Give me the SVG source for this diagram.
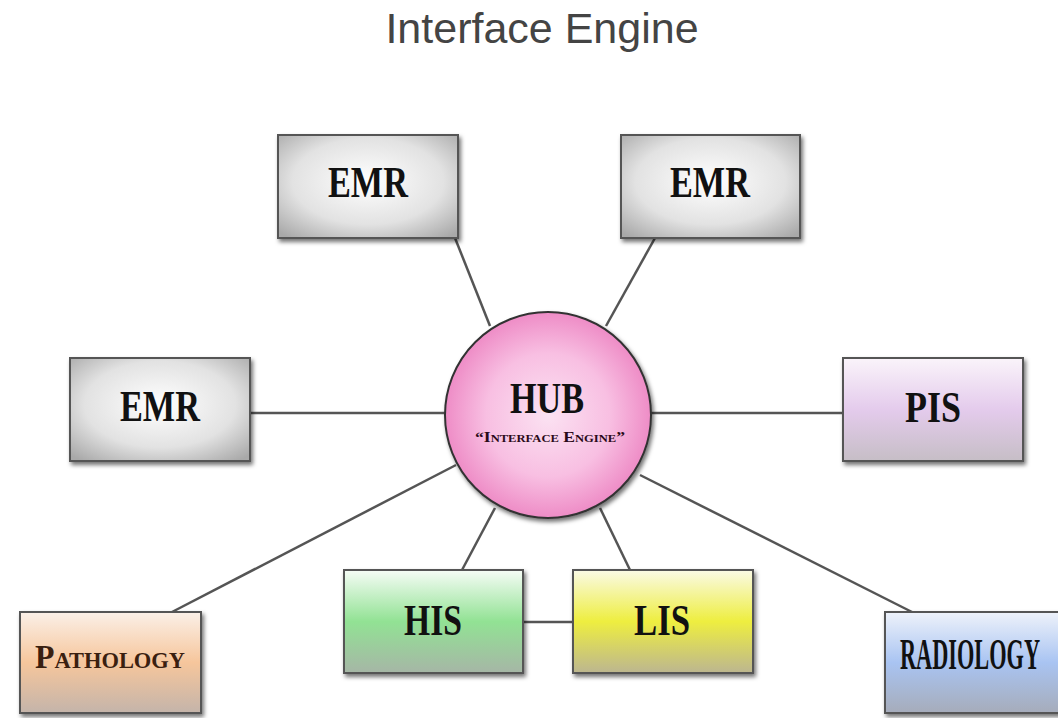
<svg xmlns="http://www.w3.org/2000/svg" width="1058" height="718" viewBox="0 0 1058 718">
<defs>
<style>
.box{stroke:#555;stroke-width:2;filter:url(#sh)}
.lbl{font-family:"Liberation Serif",serif;font-weight:bold;font-size:44px;text-anchor:middle;fill:#111}
.sc{font-family:"Liberation Serif",serif;font-weight:bold;text-anchor:middle;font-variant:small-caps}
.conn{stroke:#555;stroke-width:2.5;fill:none}
</style>
<filter id="sh" x="-10%" y="-10%" width="125%" height="130%">
<feDropShadow dx="2" dy="3" stdDeviation="2" flood-color="#000" flood-opacity="0.55"/>
</filter>
<radialGradient id="gEmr" cx="50%" cy="45%" r="70%">
<stop offset="0" stop-color="#ffffff"/>
<stop offset="0.6" stop-color="#e2e2e2"/>
<stop offset="1" stop-color="#a9a9a9"/>
</radialGradient>
<linearGradient id="gPath" x1="0" y1="0" x2="0" y2="1">
<stop offset="0" stop-color="#fbf0e8"/>
<stop offset="0.5" stop-color="#f6c69c"/>
<stop offset="1" stop-color="#c4b4aa"/>
</linearGradient>
<linearGradient id="gRad" x1="0" y1="0" x2="0" y2="1">
<stop offset="0" stop-color="#eef2fa"/>
<stop offset="0.5" stop-color="#a9c4f2"/>
<stop offset="1" stop-color="#a6acba"/>
</linearGradient>
<linearGradient id="gHis" x1="0" y1="0" x2="0" y2="1">
<stop offset="0" stop-color="#f6fcf6"/>
<stop offset="0.5" stop-color="#92e294"/>
<stop offset="1" stop-color="#a6b6a6"/>
</linearGradient>
<linearGradient id="gLis" x1="0" y1="0" x2="0" y2="1">
<stop offset="0" stop-color="#fafae6"/>
<stop offset="0.5" stop-color="#eeee40"/>
<stop offset="1" stop-color="#bcb690"/>
</linearGradient>
<linearGradient id="gPis" x1="0" y1="0" x2="0" y2="1">
<stop offset="0" stop-color="#faf4fa"/>
<stop offset="0.5" stop-color="#e4cbec"/>
<stop offset="1" stop-color="#c6bec6"/>
</linearGradient>
<radialGradient id="gHub" cx="50%" cy="50%" r="50%">
<stop offset="0" stop-color="#fbe2f2"/>
<stop offset="0.6" stop-color="#f8bfe2"/>
<stop offset="1" stop-color="#ee8cc6"/>
</radialGradient>
</defs>
<rect width="1058" height="718" fill="#ffffff"/>
<text x="542" y="43" font-family="'Liberation Sans',Arial,sans-serif" font-size="43" fill="#444" text-anchor="middle">Interface Engine</text>
<g id="connectors">
<line class="conn" x1="455" y1="238" x2="490" y2="326"/>
<line class="conn" x1="655" y1="238" x2="606" y2="326"/>
<line class="conn" x1="250" y1="413" x2="446" y2="413"/>
<line class="conn" x1="651" y1="413" x2="843" y2="413"/>
<line class="conn" x1="172" y1="612" x2="456" y2="465"/>
<line class="conn" x1="462" y1="570" x2="495" y2="508"/>
<line class="conn" x1="630" y1="570" x2="600" y2="508"/>
<line class="conn" x1="912" y1="612" x2="640" y2="475"/>
<line class="conn" x1="523" y1="622" x2="573" y2="622"/>
</g>
<g id="emr1">
<rect class="box" x="278" y="135" width="180" height="103" fill="url(#gEmr)"/>
<text class="lbl" x="368" y="197" textLength="80" lengthAdjust="spacingAndGlyphs">EMR</text>
</g>
<g id="emr2">
<rect class="box" x="621" y="135" width="179" height="103" fill="url(#gEmr)"/>
<text class="lbl" x="710" y="197" textLength="80" lengthAdjust="spacingAndGlyphs">EMR</text>
</g>
<g id="emr3">
<rect class="box" x="70" y="358" width="180" height="103" fill="url(#gEmr)"/>
<text class="lbl" x="160" y="421" textLength="80" lengthAdjust="spacingAndGlyphs">EMR</text>
</g>
<g id="pis">
<rect class="box" x="843" y="358" width="180" height="103" fill="url(#gPis)"/>
<text class="lbl" x="933" y="422" textLength="56" lengthAdjust="spacingAndGlyphs">PIS</text>
</g>
<g id="hub">
<circle cx="548" cy="415" r="103" fill="url(#gHub)" stroke="#333" stroke-width="2" filter="url(#sh)"/>
<text class="lbl" x="547" y="413" font-size="40" textLength="74" lengthAdjust="spacingAndGlyphs" fill="#1a0a12">HUB</text>
<text class="sc" x="550" y="442" font-size="14" fill="#2a0a18" textLength="150" lengthAdjust="spacingAndGlyphs">“Interface Engine”</text>
</g>
<g id="his">
<rect class="box" x="344" y="570" width="179" height="103" fill="url(#gHis)"/>
<text class="lbl" x="433" y="635" textLength="58" lengthAdjust="spacingAndGlyphs" fill="#0a200a">HIS</text>
</g>
<g id="lis">
<rect class="box" x="573" y="570" width="180" height="103" fill="url(#gLis)"/>
<text class="lbl" x="662" y="635" textLength="56" lengthAdjust="spacingAndGlyphs" fill="#1a1a05">LIS</text>
</g>
<g id="pathology">
<rect class="box" x="20" y="612" width="181" height="101" fill="url(#gPath)"/>
<text class="sc" x="110" y="668" font-size="34" fill="#3a2010" textLength="150" lengthAdjust="spacingAndGlyphs">Pathology</text>
</g>
<g id="radiology">
<rect class="box" x="885" y="612" width="180" height="101" fill="url(#gRad)"/>
<text class="lbl" x="970" y="669" font-size="25" fill="#1a2040" textLength="140" lengthAdjust="spacingAndGlyphs">RADIOLOGY</text>
</g>
</svg>
